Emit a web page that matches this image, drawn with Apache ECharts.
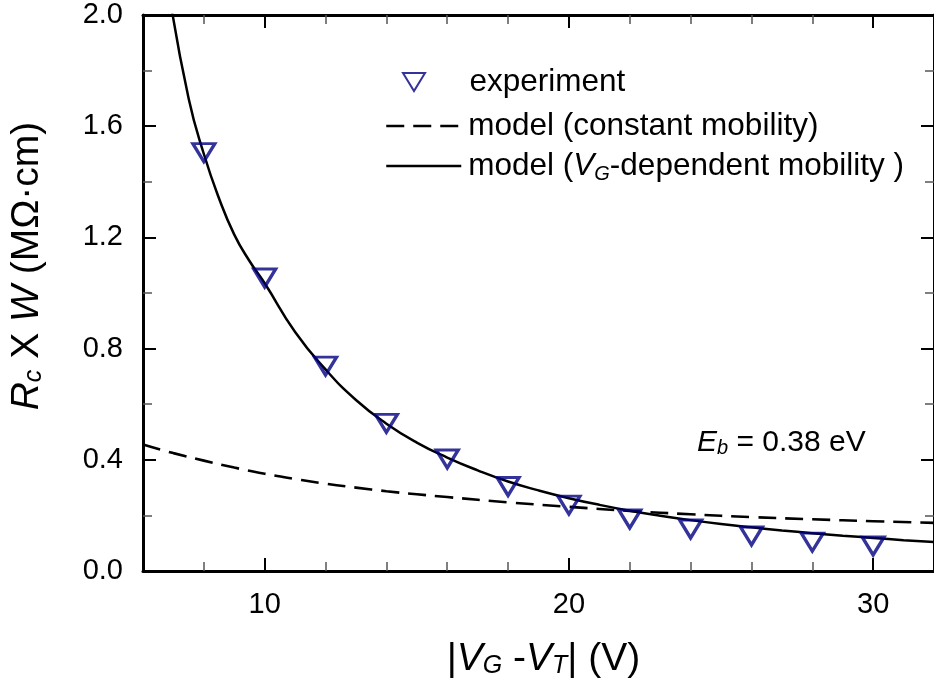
<!DOCTYPE html>
<html><head><meta charset="utf-8">
<script src="https://cdn.jsdelivr.net/npm/echarts@6/dist/echarts.min.js"></script>
<style>html,body{margin:0;padding:0;background:#fff}#c{width:934px;height:685px}</style>
</head><body><div id="c"></div>
<script>
// experiment (triangles)
const xExp = [8, 10, 12, 14, 16, 18, 20, 22, 24, 26, 28, 30];
const yExp = [1.505, 1.054, 0.737, 0.531, 0.403, 0.304, 0.237, 0.187, 0.151, 0.126, 0.104, 0.090];
// model, VG-dependent mobility (solid)
const xSolid = [6.9, 7.5, 8, 8.5, 9, 9.5, 10, 11, 12, 13, 14, 15, 16, 17, 18, 19, 20, 21, 22, 23, 24, 25, 26, 27, 28, 29, 30, 31, 32];
const ySolid = [2.05, 1.70, 1.50, 1.34, 1.21, 1.115, 1.035, 0.86, 0.725, 0.615, 0.53, 0.462, 0.408, 0.362, 0.322, 0.29, 0.262, 0.238, 0.217, 0.199, 0.183, 0.169, 0.157, 0.146, 0.136, 0.127, 0.119, 0.111, 0.104];
// model, constant mobility (dashed)
const xDash = [6, 7, 8, 9, 10, 11, 12, 13, 14, 15, 16, 18, 20, 22, 24, 26, 28, 30, 32];
const yDash = [0.455, 0.424, 0.397, 0.372, 0.350, 0.331, 0.314, 0.300, 0.287, 0.276, 0.266, 0.247, 0.231, 0.216, 0.204, 0.194, 0.186, 0.179, 0.173];
// ticks
const xMajorTicks = [10, 20, 30];
const xMinorTicks = [8, 12, 14, 16, 18, 22, 24, 26, 28];
const names = ['experiment', 'model (constant mobility)', 'model (VG-dependent mobility )'];

const F = '"Liberation Sans", Arial, sans-serif';
const NAVY = '#000080';
const zip = (a, b) => a.map((v, i) => [v, b[i]]);

function rich(size, sub) {
  return {
    t: {fontFamily: F, fontSize: size, color: '#000'},
    i: {fontFamily: F, fontSize: size, fontStyle: 'italic', color: '#000'},
    sub: {fontFamily: F, fontSize: sub, fontStyle: 'italic', color: '#000', verticalAlign: 'bottom', lineHeight: sub}
  };
}

const axisBase = {type: 'value', min: 6, max: 32, gridIndex: 0, splitLine: {show: false}};
const hideSym = {color: 'rgba(0,0,0,0)', borderColor: 'rgba(0,0,0,0)', borderWidth: 0, opacity: 0};

const chart = echarts.init(document.getElementById('c'));
chart.setOption({
  animation: false,
  backgroundColor: '#fff',
  grid: {left: 143, top: 15, width: 796, height: 556, containLabel: false},
  xAxis: [
    Object.assign({}, axisBase, {
      position: 'bottom',
      axisLine: {show: true, lineStyle: {color: '#000', width: 3}},
      axisTick: {show: true, inside: true, length: 13, customValues: xMajorTicks, lineStyle: {color: '#000', width: 2}},
      axisLabel: {show: true, customValues: xMajorTicks, fontFamily: F, fontSize: 29, color: '#000', margin: 19},
      name: '{t||}{i|V}{sub|G}{t| -}{i|V}{sub|T}{t|| (V)}',
      nameLocation: 'middle', nameGap: 69,
      nameTextStyle: {fontFamily: F, fontSize: 39, color: '#000', padding: [0, 0, 0, 10], rich: rich(39, 25)}
    }),
    Object.assign({}, axisBase, {
      position: 'bottom',
      axisLine: {show: false},
      axisTick: {show: true, inside: true, length: 9, customValues: xMinorTicks, lineStyle: {color: '#555', width: 1.5}},
      axisLabel: {show: false}
    }),
    Object.assign({}, axisBase, {
      position: 'top',
      axisLine: {show: true, lineStyle: {color: '#000', width: 3}},
      axisTick: {show: true, inside: true, length: 13, customValues: xMajorTicks, lineStyle: {color: '#000', width: 2}},
      axisLabel: {show: false}
    }),
    Object.assign({}, axisBase, {
      position: 'top',
      axisLine: {show: false},
      axisTick: {show: true, inside: true, length: 9, customValues: xMinorTicks, lineStyle: {color: '#555', width: 1.5}},
      axisLabel: {show: false}
    })
  ],
  yAxis: [
    {
      type: 'value', min: 0, max: 2, interval: 0.4, position: 'left',
      axisLine: {show: true, lineStyle: {color: '#000', width: 3}},
      axisTick: {show: true, inside: true, length: 13, lineStyle: {color: '#000', width: 2}},
      minorTick: {show: true, splitNumber: 2, length: 9, lineStyle: {color: '#555', width: 1.5}},
      axisLabel: {fontFamily: F, fontSize: 29, color: '#000', margin: 20, formatter: v => v.toFixed(1)},
      splitLine: {show: false}
    },
    {
      type: 'value', min: 0, max: 2, interval: 0.4, position: 'right',
      axisLine: {show: true, lineStyle: {color: '#000', width: 3}},
      axisTick: {show: true, inside: true, length: 13, lineStyle: {color: '#000', width: 2}},
      minorTick: {show: true, splitNumber: 2, length: 9, lineStyle: {color: '#555', width: 1.5}},
      axisLabel: {show: false},
      splitLine: {show: false}
    }
  ],
  legend: [
    {
      orient: 'vertical', left: 397, top: 59,
      itemWidth: 75, itemHeight: 18, itemGap: 0,
      symbolKeepAspect: true,
      data: [{name: names[0], icon: 'path://M0,0 L22,0 L11,18 Z'}],
      textStyle: {fontFamily: F, fontSize: 31.5, color: '#000', lineHeight: 36, padding: [0, 0, 0, 13]},
      selectedMode: false
    },
    {
      orient: 'vertical', left: 380, top: 103,
      itemWidth: 75, itemHeight: 18, itemGap: 4,
      data: [
        {name: names[1], itemStyle: hideSym},
        {name: names[2], itemStyle: hideSym}
      ],
      formatter: n => n === names[2] ? '{t|model (}{i|V}{sub|G}{t|-dependent mobility )}' : n,
      textStyle: {fontFamily: F, fontSize: 31.5, color: '#000', lineHeight: 36, padding: [0, 0, 0, 2], rich: rich(31.5, 20)},
      lineStyle: {width: 2.5},
      selectedMode: false
    }
  ],
  graphic: [
    {
      type: 'text', x: 27, y: 266, rotation: Math.PI / 2,
      style: {
        text: '{i|R}{sub|c}{t| X }{i|W}{t| (MΩ·cm)}',
        rich: rich(39, 25), align: 'center', verticalAlign: 'middle'
      }
    },
    {
      type: 'text', x: 697, y: 443,
      style: {
        text: '{i|E}{sub|b}{t| = 0.38 eV}',
        rich: rich(30, 20), align: 'left', verticalAlign: 'middle'
      }
    }
  ],
  series: [
    {
      name: names[1], type: 'line', data: zip(xDash, yDash), smooth: true, symbol: 'circle', showSymbol: false,
      lineStyle: {color: '#000', width: 2.6, type: [18, 9]}, itemStyle: {color: '#000'}, clip: true
    },
    {
      name: names[2], type: 'line', data: zip(xSolid, ySolid), smooth: true, symbol: 'circle', showSymbol: false,
      lineStyle: {color: '#000', width: 2.5, type: 'solid'}, itemStyle: {color: '#000'}, clip: true
    },
    {
      name: names[0], type: 'scatter', data: zip(xExp, yExp),
      symbol: 'triangle', symbolRotate: 180, symbolSize: [22, 18],
      itemStyle: {color: 'rgba(0,0,0,0)', borderColor: NAVY, borderWidth: 3.2}, z: 5
    }
  ]
});
</script>
</body></html>
